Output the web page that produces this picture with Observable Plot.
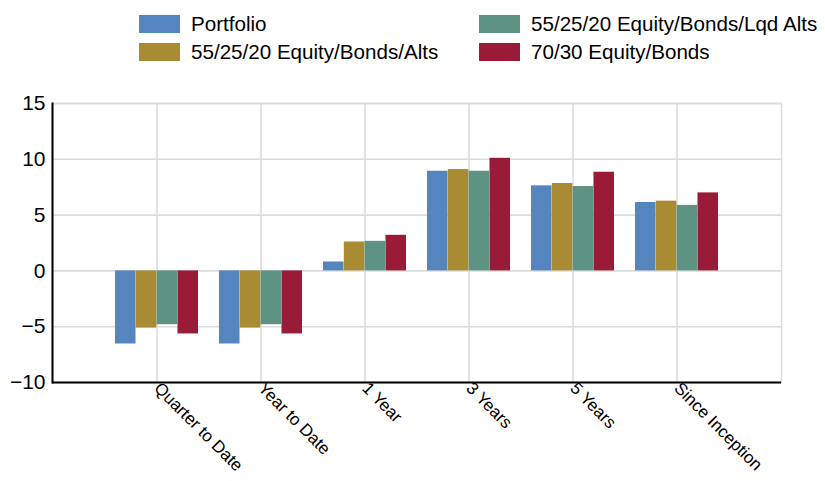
<!DOCTYPE html>
<html>
<head>
<meta charset="utf-8">
<script src="https://cdn.jsdelivr.net/npm/d3@7"></script>
<script src="https://cdn.jsdelivr.net/npm/@observablehq/plot@0.6"></script>
<style>
  body { margin: 0; background: white; font-family: "Liberation Sans", Arial, sans-serif; }
  #legend { position: relative; width: 825px; height: 70px; }
  .item { position: absolute; display: flex; align-items: center; font-size: 20.6px; line-height: 18px; height: 18px; color: #000; white-space: nowrap; }
  .sw { width: 41px; height: 18px; margin-right: 11px; flex: none; }
</style>
</head>
<body>
<div id="legend"></div>
<div id="chart"></div>
<script>
const categories = ["Quarter to Date", "Year to Date", "1 Year", "3 Years", "5 Years", "Since Inception"];
const seriesNames = ["Portfolio", "55/25/20 Equity/Bonds/Alts", "55/25/20 Equity/Bonds/Lqd Alts", "70/30 Equity/Bonds"];
const portfolio   = [-6.55, -6.55, 0.80, 8.93, 7.62, 6.13];
const eqBondsAlts = [-5.12, -5.12, 2.59, 9.08, 7.83, 6.25];
const eqBondsLqd  = [-4.82, -4.82, 2.65, 8.93, 7.56, 5.87];
const eqBonds7030 = [-5.65, -5.65, 3.19, 10.09, 8.84, 6.99];
const yTicks = [-10, -5, 0, 5, 10, 15];
const colors = ["#5585be", "#a88b32", "#5e9383", "#9a1b38"];

const seriesValues = [portfolio, eqBondsAlts, eqBondsLqd, eqBonds7030];

// legend (two columns)
const legendPos = [[139, 15], [479, 15], [139, 42.5], [479, 42.5]];
const legendOrder = [0, 2, 1, 3];
const legend = document.getElementById("legend");
legendOrder.forEach((si, k) => {
  const d = document.createElement("div");
  d.className = "item";
  d.style.left = legendPos[k][0] + "px";
  d.style.top = legendPos[k][1] + "px";
  d.innerHTML = `<span class="sw" style="background:${colors[si]}"></span><span>${seriesNames[si]}</span>`;
  legend.appendChild(d);
});

const W = 825, mL = 52, mR = 44;
const paddingInner = 0.2, paddingOuter = 0.6;
const step = (W - mL - mR) / (categories.length - paddingInner + 2 * paddingOuter);
const barW = step * (1 - paddingInner) / seriesNames.length;

const barMarks = seriesValues.map((vals, i) =>
  Plot.barY(categories.map((c, j) => ({category: c, value: vals[j]})), {
    x: "category", y: "value", fill: colors[i],
    insetLeft: i * barW, insetRight: (seriesNames.length - 1 - i) * barW
  })
);

const chart = Plot.plot({
  width: W, height: 411,
  marginTop: 33, marginLeft: mL, marginRight: mR, marginBottom: 99,
  style: {fontFamily: "Liberation Sans, Arial, sans-serif", background: "white", color: "black"},
  x: {domain: categories, paddingInner, paddingOuter, axis: null},
  y: {domain: [-10, 15], axis: null},
  marks: [
    Plot.gridX({stroke: "#dcdcdc", strokeOpacity: 1, strokeWidth: 1.6}),
    Plot.gridY({ticks: yTicks, stroke: "#dcdcdc", strokeOpacity: 1, strokeWidth: 1.6}),
    Plot.frame({stroke: "#dcdcdc", strokeWidth: 1.6}),
    ...barMarks,
    Plot.ruleY([-10], {stroke: "black", strokeWidth: 2}),
    Plot.frame({anchor: "left", stroke: "black", strokeWidth: 2}),
    Plot.axisY({ticks: yTicks, tickSize: 0, tickPadding: 7, fontSize: 21, label: null}),
    Plot.axisX({tickSize: 0, tickRotate: 45, tickPadding: 3, fontSize: 17, label: null})
  ]
});
document.getElementById("chart").appendChild(chart);
</script>
</body>
</html>
